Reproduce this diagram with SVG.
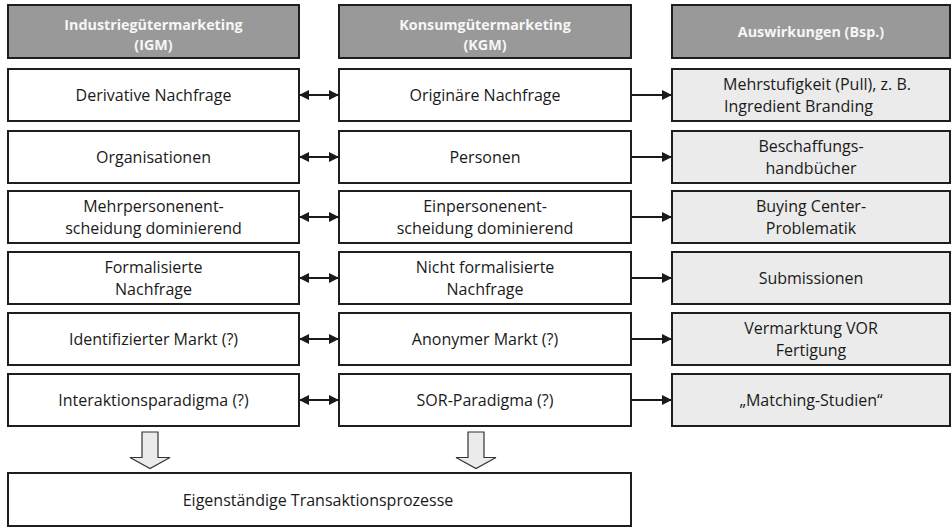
<svg xmlns="http://www.w3.org/2000/svg" width="952" height="528" viewBox="0 0 952 528">
<defs>
<style>
.box{fill:#ffffff;stroke:#1e1e1e;stroke-width:2}
.hdr{fill:#999999;stroke:#1e1e1e;stroke-width:2}
.eff{fill:#ebebeb;stroke:#1e1e1e;stroke-width:2}
.t{font-family:"Open Sans","Liberation Sans",sans-serif;font-size:16px;fill:#1a1a1a;text-anchor:middle}
.h{font-family:"Open Sans","Liberation Sans",sans-serif;font-size:14.3px;font-weight:bold;fill:#f6f6f6;text-anchor:middle}
.ln{stroke:#1a1a1a;stroke-width:2;fill:none}
.blk{fill:#ebebeb;stroke:#333333;stroke-width:1.2}
</style>
<marker id="ah" viewBox="0 0 10 10" refX="9" refY="5" markerWidth="5" markerHeight="5" orient="auto-start-reverse" markerUnits="strokeWidth">
<path d="M0,0 L10,5 L0,10 z" fill="#1a1a1a"/>
</marker>
</defs>

<g id="hdr-igm"><rect class="hdr" x="8" y="5" width="291" height="53"/><text class="h" x="153.5" y="30">Industriegütermarketing</text><text class="h" x="153.5" y="50">(IGM)</text></g>
<g id="hdr-kgm"><rect class="hdr" x="339" y="5" width="292" height="53"/><text class="h" x="485" y="30">Konsumgütermarketing</text><text class="h" x="485" y="50">(KGM)</text></g>
<g id="hdr-aus"><rect class="hdr" x="672" y="5" width="278" height="53"/><text class="h" x="811" y="36.5">Auswirkungen (Bsp.)</text></g>

<g id="r1a"><rect class="box" x="8" y="69" width="291" height="52"/><text class="t" x="153.5" y="100.5">Derivative Nachfrage</text></g>
<g id="r1b"><rect class="box" x="339" y="69" width="292" height="52"/><text class="t" x="485" y="100.5">Originäre Nachfrage</text></g>
<g id="r1c"><rect class="eff" x="672" y="69" width="278" height="52"/><text class="t" x="723" y="90" style="text-anchor:start">Mehrstufigkeit (Pull), z. B.</text><text class="t" x="724" y="112" style="text-anchor:start">Ingredient Branding</text></g>

<g id="r2a"><rect class="box" x="8" y="131" width="291" height="52"/><text class="t" x="153.5" y="162.5">Organisationen</text></g>
<g id="r2b"><rect class="box" x="339" y="131" width="292" height="52"/><text class="t" x="485" y="162.5">Personen</text></g>
<g id="r2c"><rect class="eff" x="672" y="131" width="278" height="52"/><text class="t" x="811" y="152">Beschaffungs-</text><text class="t" x="811" y="174">handbücher</text></g>

<g id="r3a"><rect class="box" x="8" y="191" width="291" height="52"/><text class="t" x="153.5" y="212">Mehrpersonenent-</text><text class="t" x="153.5" y="234">scheidung dominierend</text></g>
<g id="r3b"><rect class="box" x="339" y="191" width="292" height="52"/><text class="t" x="485" y="212">Einpersonenent-</text><text class="t" x="485" y="234">scheidung dominierend</text></g>
<g id="r3c"><rect class="eff" x="672" y="191" width="278" height="52"/><text class="t" x="811" y="212">Buying Center-</text><text class="t" x="811" y="234">Problematik</text></g>

<g id="r4a"><rect class="box" x="8" y="252" width="291" height="52"/><text class="t" x="153.5" y="273">Formalisierte</text><text class="t" x="153.5" y="295">Nachfrage</text></g>
<g id="r4b"><rect class="box" x="339" y="252" width="292" height="52"/><text class="t" x="485" y="273">Nicht formalisierte</text><text class="t" x="485" y="295">Nachfrage</text></g>
<g id="r4c"><rect class="eff" x="672" y="252" width="278" height="52"/><text class="t" x="811" y="283.5">Submissionen</text></g>

<g id="r5a"><rect class="box" x="8" y="313" width="291" height="52"/><text class="t" x="153.5" y="344.5">Identifizierter Markt (?)</text></g>
<g id="r5b"><rect class="box" x="339" y="313" width="292" height="52"/><text class="t" x="485" y="344.5">Anonymer Markt (?)</text></g>
<g id="r5c"><rect class="eff" x="672" y="313" width="278" height="52"/><text class="t" x="811" y="334">Vermarktung VOR</text><text class="t" x="811" y="356">Fertigung</text></g>

<g id="r6a"><rect class="box" x="8" y="374" width="291" height="52"/><text class="t" x="153.5" y="405.5">Interaktionsparadigma (?)</text></g>
<g id="r6b"><rect class="box" x="339" y="374" width="292" height="52"/><text class="t" x="485" y="405.5">SOR-Paradigma (?)</text></g>
<g id="r6c"><rect class="eff" x="672" y="374" width="278" height="52"/><text class="t" x="811" y="405.5">„Matching-Studien“</text></g>

<g id="bottom"><rect class="box" x="8" y="473" width="623" height="53"/><text class="t" x="318" y="505.5">Eigenständige Transaktionsprozesse</text></g>

<g id="connectors">
<line class="ln" x1="300" y1="95" x2="338" y2="95" marker-start="url(#ah)" marker-end="url(#ah)"/>
<line class="ln" x1="300" y1="157" x2="338" y2="157" marker-start="url(#ah)" marker-end="url(#ah)"/>
<line class="ln" x1="300" y1="217" x2="338" y2="217" marker-start="url(#ah)" marker-end="url(#ah)"/>
<line class="ln" x1="300" y1="278" x2="338" y2="278" marker-start="url(#ah)" marker-end="url(#ah)"/>
<line class="ln" x1="300" y1="339" x2="338" y2="339" marker-start="url(#ah)" marker-end="url(#ah)"/>
<line class="ln" x1="300" y1="400" x2="338" y2="400" marker-start="url(#ah)" marker-end="url(#ah)"/>
<line class="ln" x1="632" y1="95" x2="671" y2="95" marker-end="url(#ah)"/>
<line class="ln" x1="632" y1="157" x2="671" y2="157" marker-end="url(#ah)"/>
<line class="ln" x1="632" y1="217" x2="671" y2="217" marker-end="url(#ah)"/>
<line class="ln" x1="632" y1="278" x2="671" y2="278" marker-end="url(#ah)"/>
<line class="ln" x1="632" y1="339" x2="671" y2="339" marker-end="url(#ah)"/>
<line class="ln" x1="632" y1="400" x2="671" y2="400" marker-end="url(#ah)"/>
<path class="blk" d="M142,432 H158 V457.5 H170 L150,468.5 L130,457.5 H142 Z"/>
<path class="blk" d="M468,432 H484 V457.5 H496 L476,468.5 L456,457.5 H468 Z"/>
</g>
</svg>
